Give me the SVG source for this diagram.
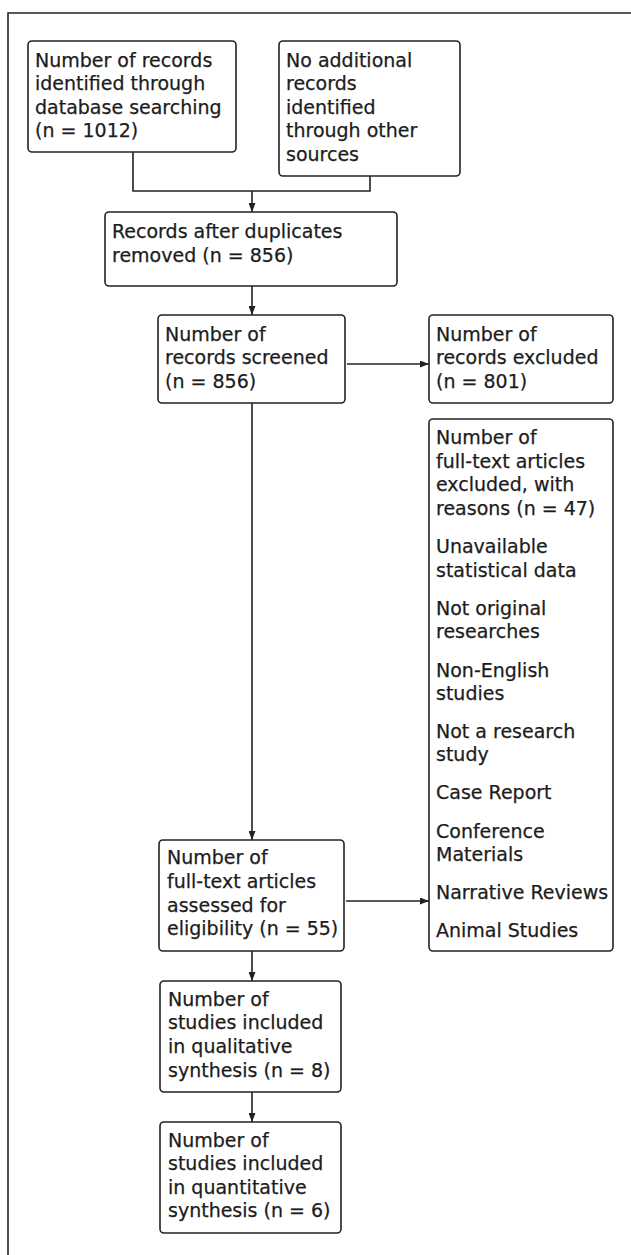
<svg xmlns="http://www.w3.org/2000/svg" width="631" height="1255" viewBox="0 0 631 1255">
<defs>
<style>
.box{fill:#fff;stroke:#222;stroke-width:1.6}
.t{font-family:"DejaVu Sans",sans-serif;font-size:19px;fill:#1c1c1c;stroke:#1c1c1c;stroke-width:0.25}
.c{fill:none;stroke:#222;stroke-width:1.6}
</style>
<marker id="ah" markerWidth="9" markerHeight="7" refX="9" refY="3.5" orient="auto" markerUnits="userSpaceOnUse">
<path d="M0,0 L9,3.5 L0,7 Z" fill="#222"/>
</marker>
</defs>
<rect width="631" height="1255" fill="#fff"/>
<path d="M8 1256 V13 H632" fill="none" stroke="#222" stroke-width="1.6"/>
<g id="connectors">
<path class="c" d="M133 152 V191 H370 V176"/>
<path class="c" d="M252 191 V212" marker-end="url(#ah)"/>
<path class="c" d="M252 286 V315" marker-end="url(#ah)"/>
<path class="c" d="M347 364 H429" marker-end="url(#ah)"/>
<path class="c" d="M252 403 V840" marker-end="url(#ah)"/>
<path class="c" d="M346 901 H429" marker-end="url(#ah)"/>
<path class="c" d="M252 951 V981" marker-end="url(#ah)"/>
<path class="c" d="M252 1092 V1122" marker-end="url(#ah)"/>
</g>
<g id="n1">
<rect class="box" x="28" y="41" width="208" height="111" rx="4"/>
<text class="t"><tspan x="35" y="67">Number of records</tspan><tspan x="35" y="90">identified through</tspan><tspan x="35" y="114">database searching</tspan><tspan x="35" y="137">(n = 1012)</tspan></text>
</g>
<g id="n2">
<rect class="box" x="279" y="41" width="181" height="135" rx="4"/>
<text class="t"><tspan x="286" y="67">No additional</tspan><tspan x="286" y="90">records</tspan><tspan x="286" y="114">identified</tspan><tspan x="286" y="137">through other</tspan><tspan x="286" y="161">sources</tspan></text>
</g>
<g id="n3">
<rect class="box" x="105" y="212" width="292" height="74" rx="4"/>
<text class="t"><tspan x="112" y="238">Records after duplicates</tspan><tspan x="112" y="262">removed (n = 856)</tspan></text>
</g>
<g id="n4">
<rect class="box" x="158" y="315" width="187" height="88" rx="4"/>
<text class="t"><tspan x="165" y="341">Number of</tspan><tspan x="165" y="364">records screened</tspan><tspan x="165" y="388">(n = 856)</tspan></text>
</g>
<g id="n5">
<rect class="box" x="429" y="315" width="184" height="88" rx="4"/>
<text class="t"><tspan x="436" y="341">Number of</tspan><tspan x="436" y="364">records excluded</tspan><tspan x="436" y="388">(n = 801)</tspan></text>
</g>
<g id="n6">
<rect class="box" x="429" y="419" width="184" height="532" rx="4"/>
<text class="t"><tspan x="436" y="444">Number of</tspan><tspan x="436" y="468">full-text articles</tspan><tspan x="436" y="491">excluded, with</tspan><tspan x="436" y="515">reasons (n = 47)</tspan><tspan x="436" y="553">Unavailable</tspan><tspan x="436" y="577">statistical data</tspan><tspan x="436" y="615">Not original</tspan><tspan x="436" y="638">researches</tspan><tspan x="436" y="677">Non-English</tspan><tspan x="436" y="700">studies</tspan><tspan x="436" y="738">Not a research</tspan><tspan x="436" y="761">study</tspan><tspan x="436" y="799">Case Report</tspan><tspan x="436" y="838">Conference</tspan><tspan x="436" y="861">Materials</tspan><tspan x="436" y="899">Narrative Reviews</tspan><tspan x="436" y="937">Animal Studies</tspan></text>
</g>
<g id="n7">
<rect class="box" x="159" y="840" width="185" height="111" rx="4"/>
<text class="t"><tspan x="167" y="864">Number of</tspan><tspan x="167" y="888">full-text articles</tspan><tspan x="167" y="912">assessed for</tspan><tspan x="167" y="935">eligibility (n = 55)</tspan></text>
</g>
<g id="n8">
<rect class="box" x="160" y="981" width="181" height="111" rx="4"/>
<text class="t"><tspan x="168" y="1006">Number of</tspan><tspan x="168" y="1029">studies included</tspan><tspan x="168" y="1053">in qualitative</tspan><tspan x="168" y="1077">synthesis (n = 8)</tspan></text>
</g>
<g id="n9">
<rect class="box" x="160" y="1122" width="181" height="111" rx="4"/>
<text class="t"><tspan x="168" y="1147">Number of</tspan><tspan x="168" y="1170">studies included</tspan><tspan x="168" y="1194">in quantitative</tspan><tspan x="168" y="1217">synthesis (n = 6)</tspan></text>
</g>
</svg>
